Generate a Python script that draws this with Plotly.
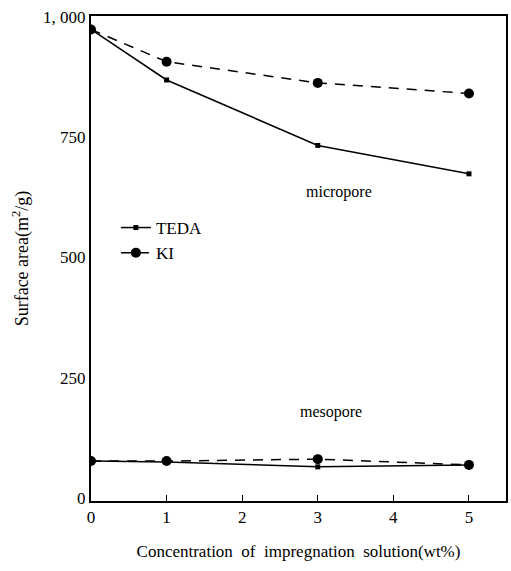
import plotly.graph_objects as go

conc = [0, 1, 3, 5]
teda_micro = [974, 869, 733, 674]
ki_micro = [974, 907, 863, 841]
teda_meso = [77, 75, 65, 69]
ki_meso = [77, 77, 81, 69]
y_ticks = [0, 250, 500, 750, 1000]
y_ticklabels = ["0", "250", "500", "750", "1,&nbsp;000"]
x_ticks = [0, 1, 2, 3, 4, 5]

FONT = "Liberation Serif, Times New Roman, serif"

fig = go.Figure()
teda_line = dict(color="black", width=1.5)
ki_line = dict(color="black", width=1.5, dash="10px,8px")
teda_marker = dict(symbol="square", size=5, color="black")
ki_marker = dict(symbol="circle", size=10, color="black")

fig.add_trace(go.Scatter(x=conc, y=teda_micro, mode="lines+markers", name="TEDA",
                         line=teda_line, marker=teda_marker, legendgroup="teda"))
fig.add_trace(go.Scatter(x=conc, y=ki_micro, mode="lines+markers", name="KI",
                         line=ki_line, marker=ki_marker, legendgroup="ki"))
fig.add_trace(go.Scatter(x=conc, y=teda_meso, mode="lines+markers", name="TEDA",
                         line=teda_line, marker=teda_marker, legendgroup="teda", showlegend=False))
fig.add_trace(go.Scatter(x=conc, y=ki_meso, mode="lines+markers", name="KI",
                         line=ki_line, marker=ki_marker, legendgroup="ki", showlegend=False))

fig.add_annotation(x=3.28, y=636, text="micropore", showarrow=False,
                   font=dict(family=FONT, size=16, color="black"))
fig.add_annotation(x=3.17, y=180, text="mesopore", showarrow=False,
                   font=dict(family=FONT, size=16, color="black"))

fig.update_layout(
    width=511, height=571,
    margin=dict(l=91, r=3, t=16, b=70),
    paper_bgcolor="white", plot_bgcolor="white",
    font=dict(family=FONT, size=17, color="black"),
    legend=dict(x=0.06, y=0.600, xanchor="left", yanchor="top",
                bgcolor="rgba(0,0,0,0)", itemwidth=30, tracegroupgap=0,
                font=dict(family=FONT, size=17, color="black")),
    xaxis=dict(range=[0, 5.49], tickvals=x_ticks, ticks="inside", ticklen=6,
               tickcolor="black", showline=True, linecolor="black", linewidth=2,
               mirror=True, showgrid=False, zeroline=False,
               tickfont=dict(family=FONT, size=17),
               title=dict(text="Concentration&nbsp; of&nbsp; impregnation&nbsp; solution(wt%)",
                          font=dict(family=FONT, size=17), standoff=19)),
    yaxis=dict(range=[-6, 1002], tickvals=y_ticks, ticktext=y_ticklabels, ticks="",
               showline=True, linecolor="black", linewidth=2, mirror=True,
               showgrid=False, zeroline=False, tickfont=dict(family=FONT, size=17),
               title=dict(text="Surface area(m<sup>2</sup>/g)",
                          font=dict(family=FONT, size=18), standoff=10)),
)

fig.write_html("out.html")
